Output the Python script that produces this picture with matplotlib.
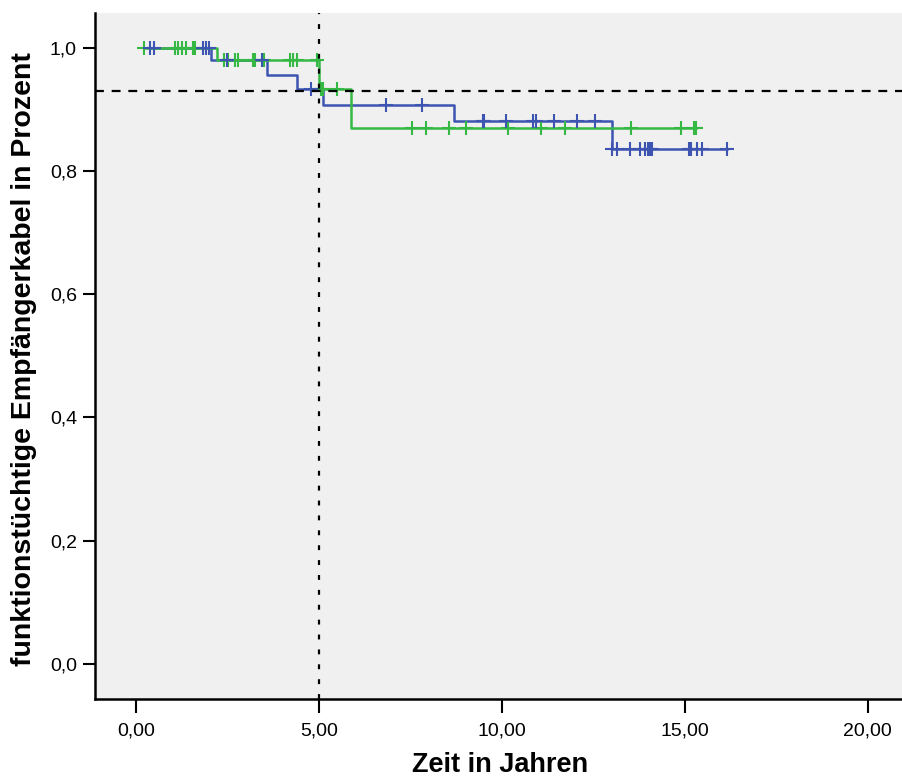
import numpy as np
import matplotlib.pyplot as plt

# --- Kaplan-Meier data ---
# blue group: step times and survival after each step
blue_times = [0.38, 2.05, 3.59, 4.39, 5.10, 8.70, 13.01, 16.16]
blue_surv = [1.000, 0.979, 0.955, 0.932, 0.907, 0.881, 0.836, 0.836]
blue_cens = [0.38, 0.49, 1.82, 1.91, 2.00, 2.48, 3.43, 4.77, 6.82, 7.81,
             9.47, 9.52, 10.11, 10.86, 10.93, 11.43, 12.06, 12.54, 13.02,
             13.14, 13.49, 13.77, 13.91, 13.98, 14.06, 14.09, 15.12, 15.17,
             15.33, 15.48, 16.16]

# green group
green_times = [0.23, 2.22, 5.00, 5.87, 15.30]
green_surv = [1.000, 0.979, 0.932, 0.870, 0.870]
green_cens = [0.23, 1.07, 1.15, 1.26, 1.37, 1.55, 1.60, 2.41, 2.51, 2.71,
              2.78, 3.19, 3.26, 3.50, 4.20, 4.30, 4.39, 4.95, 5.05, 5.10,
              5.48, 7.55, 7.92, 8.55, 9.03, 10.16, 11.08, 11.72, 13.52,
              14.89, 15.25, 15.30]

ref_y = 0.929   # horizontal reference line
ref_x = 5.0     # vertical reference line

xticks = [0, 5, 10, 15, 20]
yticks = [0.0, 0.2, 0.4, 0.6, 0.8, 1.0]

blue = "#3d55b1"
green = "#35b844"
font = ["Liberation Sans", "DejaVu Sans"]


def surv_at(times, surv, t):
    i = np.searchsorted(times, t, side="right") - 1
    return np.asarray(surv)[np.clip(i, 0, len(surv) - 1)]


fig = plt.figure(figsize=(9.03, 7.78), dpi=100)
ax = fig.add_axes([95 / 903, 79 / 778, 1 - 95 / 903, (699 - 13) / 778])
ax.set_facecolor("#f0f0f0")

ax.step(blue_times, blue_surv, where="post", color=blue, lw=1.8, zorder=2)
ax.step(green_times, green_surv, where="post", color=green, lw=1.8, zorder=3)
ax.plot(green_cens, surv_at(green_times, green_surv, green_cens), ls="none",
        marker="+", ms=9.5, mew=1.5, color=green, zorder=4)
ax.plot(blue_cens, surv_at(blue_times, blue_surv, blue_cens), ls="none",
        marker="+", ms=9.5, mew=1.5, color=blue, zorder=5)

ax.axhline(ref_y, color="black", lw=1.6, dashes=(4, 3.5), zorder=6)
ax.axvline(ref_x, color="black", lw=1.6, dashes=(2.2, 4.5), zorder=6)

ax.set_xlim(-1.12, 20.96)
ax.set_ylim(-0.057, 1.056)
ax.set_xticks(xticks)
ax.set_xticklabels([("%.2f" % v).replace(".", ",") for v in xticks])
ax.set_yticks(yticks)
ax.set_yticklabels([("%.1f" % v).replace(".", ",") for v in yticks])

for lab in ax.get_xticklabels() + ax.get_yticklabels():
    lab.set_family(font)
    lab.set_fontsize(14)
ax.tick_params(axis="x", length=10, width=1.5, pad=7)
ax.tick_params(axis="y", length=9, width=1.5, pad=4)

for s in ["top", "right"]:
    ax.spines[s].set_visible(False)
for s in ["left", "bottom"]:
    ax.spines[s].set_linewidth(1.8)

fig.text(500 / 903, 6 / 778, "Zeit in Jahren", fontsize=19.5, fontweight="bold",
         family=font, ha="center", va="baseline")
fig.text(24 / 903, 1 - 359 / 778, "funktionstüchtige Empfängerkabel in Prozent",
         fontsize=20.5, fontweight="bold", family=font, rotation=90,
         ha="center", va="center")

fig.savefig("out.png", dpi=100)
